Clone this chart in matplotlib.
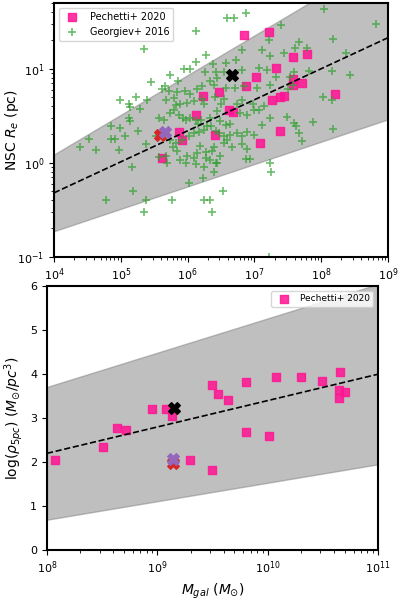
import numpy as np
import matplotlib.pyplot as plt

# Georgiev+ 2016 NSCs (log10 mass, log10 Re)
georgiev_logm = [6.69, 6.87, 6.59, 8.04, 8.82, 6.12, 5.35, 7.22, 7.40, 8.18,
                 7.67, 7.61, 7.78, 7.11, 6.82, 7.24, 7.44, 6.27, 6.13, 6.38,
                 6.57, 6.72, 6.04, 5.94, 6.26, 6.43, 6.55, 6.44, 6.34, 6.82,
                 7.07, 7.19, 7.33, 7.59, 7.82, 8.16, 8.43, 8.37, 5.74, 5.61,
                 5.66, 5.72, 5.84, 5.96, 6.03, 6.14, 6.22, 6.39, 6.58, 6.71,
                 6.85, 7.04, 7.24, 7.50, 5.39, 5.23, 4.99, 5.13, 5.14, 5.29,
                 5.68, 5.80, 5.82, 5.89, 5.99, 6.09, 6.22, 6.25, 6.41, 6.55,
                 6.82, 6.74, 6.98, 7.07, 7.14, 8.02, 8.16, 5.13, 5.14, 4.85,
                 4.99, 5.26, 5.57, 5.64, 5.74, 5.79, 5.87, 5.93, 5.97, 6.04,
                 6.13, 6.15, 6.20, 6.29, 6.33, 6.44, 6.49, 6.57, 6.64, 6.79,
                 6.89, 6.99, 7.12, 7.24, 7.49, 7.59, 7.62, 7.67, 7.87, 8.18,
                 7.72, 4.52, 4.39, 4.63, 4.86, 4.92, 5.07, 4.97, 5.37, 5.52,
                 5.73, 5.83, 5.84, 5.92, 6.02, 6.09, 6.17, 6.24, 6.35, 6.42,
                 6.47, 6.54, 6.64, 6.74, 6.82, 6.89, 6.99, 6.82, 6.67, 6.89,
                 6.54, 6.39, 6.37, 6.27, 6.28, 6.34, 6.43, 6.49, 6.59, 6.19,
                 6.14, 6.09, 5.99, 5.89, 5.69, 5.57, 5.78, 5.67, 6.87, 6.94,
                 7.24, 7.25, 5.17, 6.25, 5.98, 6.12, 6.23, 6.02, 6.40, 6.44,
                 6.53, 5.77, 5.37, 5.18, 4.78, 5.34, 6.36, 6.24, 6.33, 7.22,
                 7.54, 7.58, 6.50, 5.45, 5.86]
georgiev_logre = [1.54, 1.59, 1.54, 1.63, 1.48, 1.40, 1.21, 1.31, 1.46, 1.32,
                  1.28, 1.22, 1.22, 1.20, 1.20, 1.14, 1.17, 1.15, 1.07, 1.05,
                  1.06, 1.09, 1.00, 1.00, 0.96, 0.97, 0.97, 0.90, 0.87, 0.99,
                  1.01, 0.99, 0.91, 0.97, 0.98, 0.98, 0.93, 1.17, 0.93, 0.78,
                  0.82, 0.76, 0.75, 0.76, 0.73, 0.78, 0.82, 0.83, 0.80, 0.79,
                  0.82, 0.79, 0.83, 0.78, 0.67, 0.70, 0.67, 0.63, 0.59, 0.57,
                  0.67, 0.69, 0.61, 0.63, 0.64, 0.66, 0.68, 0.63, 0.70, 0.68,
                  0.67, 0.62, 0.63, 0.56, 0.60, 0.70, 0.67, 0.48, 0.44, 0.39,
                  0.37, 0.34, 0.48, 0.46, 0.53, 0.56, 0.51, 0.48, 0.45, 0.48,
                  0.46, 0.41, 0.45, 0.39, 0.48, 0.55, 0.44, 0.40, 0.41, 0.53,
                  0.51, 0.56, 0.40, 0.48, 0.49, 0.42, 0.39, 0.32, 0.43, 0.36,
                  0.23, 0.25, 0.17, 0.14, 0.25, 0.25, 0.28, 0.14, 0.20, 0.28,
                  0.24, 0.21, 0.12, 0.24, 0.28, 0.32, 0.33, 0.35, 0.39, 0.34,
                  0.32, 0.28, 0.30, 0.32, 0.28, 0.33, 0.30, 0.20, 0.17, 0.15,
                  0.21, 0.17, 0.12, 0.11, 0.05, 0.03, 0.00, 0.07, 0.24, 0.18,
                  0.10, 0.05, 0.07, 0.03, 0.00, 0.06, 0.17, 0.07, 0.04, 0.04,
                  0.00, -0.10, -0.05, -0.05, 0.00, -0.01, -0.16, -0.22, -0.10, 0.00,
                  -0.30, -0.40, -0.40, -0.30, -0.40, -0.52, -0.52, -0.40, -0.40, -1.00,
                  0.91, 0.83, 0.62, 0.86, 0.87]

# Pechetti+ 2020 NSCs (log10 mass, log10 Re)
pechetti_logm = [6.84, 7.22, 7.58, 7.78, 7.33, 7.02, 6.87, 6.47, 6.23, 7.58,
                 7.58, 7.72, 7.44, 7.38, 7.26, 8.21, 6.62, 6.68, 6.13, 5.87,
                 5.92, 6.41, 7.08, 7.39, 5.62]
pechetti_logre = [1.36, 1.39, 1.13, 1.16, 1.01, 0.91, 0.82, 0.75, 0.71, 0.89,
                  0.83, 0.85, 0.71, 0.70, 0.67, 0.73, 0.56, 0.54, 0.51, 0.33,
                  0.24, 0.30, 0.21, 0.34, 0.05]

# Pechetti+ 2020 galaxy mass vs density
pechetti_mgal = [8.07, 8.51, 8.63, 8.72, 8.95, 9.08, 9.13, 9.30, 9.50, 9.50,
                 9.55, 9.64, 9.80, 9.80, 10.01, 10.08, 10.30, 10.49, 10.66, 10.65,
                 10.70, 10.65]
pechetti_rho = [2.04, 2.35, 2.78, 2.74, 3.20, 3.22, 3.06, 2.04, 3.75, 1.83,
                3.55, 3.41, 3.83, 2.68, 2.60, 3.93, 3.93, 3.84, 4.04, 3.64,
                3.60, 3.47]

# highlighted objects: (log M_nsc, log Re, log M_gal, log rho)
special_colors = ['black', 'tab:red', 'tab:purple']
special_logm = [6.67, 5.59, 5.66]
special_logre = [0.93, 0.30, 0.33]
special_mgal = [9.15, 9.14, 9.14]
special_rho = [3.24, 1.98, 2.06]

# fits: intercept, slope, intercept err, slope err
fit_re = (-1.64, 0.33, 0.04, 0.092)
fit_rho = (-2.60, 0.60, 0.07, 0.18)

fig = plt.figure(figsize=(4, 6), dpi=100)
ax1 = fig.add_axes([0.135, 0.572, 0.835, 0.423])
ax2 = fig.add_axes([0.1175, 0.0833, 0.8275, 0.4395])

# top panel
xx = np.linspace(4, 9, 50)
a, b, da, db = fit_re
ax1.fill_between(10**xx, 10**((a - da) + (b - db) * xx), 10**((a + da) + (b + db) * xx),
                 color='grey', alpha=0.5, zorder=0)
ax1.plot(10**xx, 10**(a + b * xx), 'k--', lw=1.2, zorder=3)
ax1.scatter(10**np.array(pechetti_logm), 10**np.array(pechetti_logre), marker='s', s=28,
            color='deeppink', alpha=0.85, label='Pechetti+ 2020', zorder=2)
ax1.scatter(10**np.array(georgiev_logm), 10**np.array(georgiev_logre), marker='+', s=30,
            color='tab:green', alpha=0.7, lw=1.2, label='Georgiev+ 2016', zorder=2)
for c, m, r in zip(special_colors, special_logm, special_logre):
    ax1.scatter(10**m, 10**r, marker='X', s=70, color=c, zorder=4)
ax1.set_xscale('log')
ax1.set_yscale('log')
ax1.set_xlim(1e4, 1e9)
ax1.set_ylim(0.1, 50)
ax1.set_xlabel(r'log($M_{nsc}$) ($M_{\odot}$)', fontsize=10)
ax1.set_ylabel(r'NSC $R_e$ (pc)', fontsize=10)
ax1.yaxis.set_label_coords(-0.1, 0.5)
ax1.legend(loc='upper left', fontsize=7)

# bottom panel
xx = np.linspace(8, 11, 50)
a, b, da, db = fit_rho
ax2.fill_between(10**xx, (a - da) + (b - db) * xx, (a + da) + (b + db) * xx,
                 color='grey', alpha=0.5, zorder=0)
ax2.plot(10**xx, a + b * xx, 'k--', lw=1.2, zorder=3)
ax2.scatter(10**np.array(pechetti_mgal), pechetti_rho, marker='s', s=28,
            color='deeppink', alpha=0.85, label='Pechetti+ 2020', zorder=2)
for c, m, r in zip(special_colors, special_mgal, special_rho):
    ax2.scatter(10**m, r, marker='X', s=70, color=c, zorder=4)
ax2.set_xscale('log')
ax2.set_xlim(1e8, 1e11)
ax2.set_ylim(0, 6)
ax2.set_xlabel(r'$M_{gal}$ ($M_{\odot}$)', fontsize=10)
ax2.set_ylabel(r'log($\rho_{5pc}$) ($M_{\odot}/pc^3$)', fontsize=10)
ax2.legend(loc='upper right', fontsize=6.5)

for ax in (ax1, ax2):
    ax.tick_params(labelsize=8)
    for s in ax.spines.values():
        s.set_linewidth(1.5)

plt.savefig('out.png', dpi=100)
